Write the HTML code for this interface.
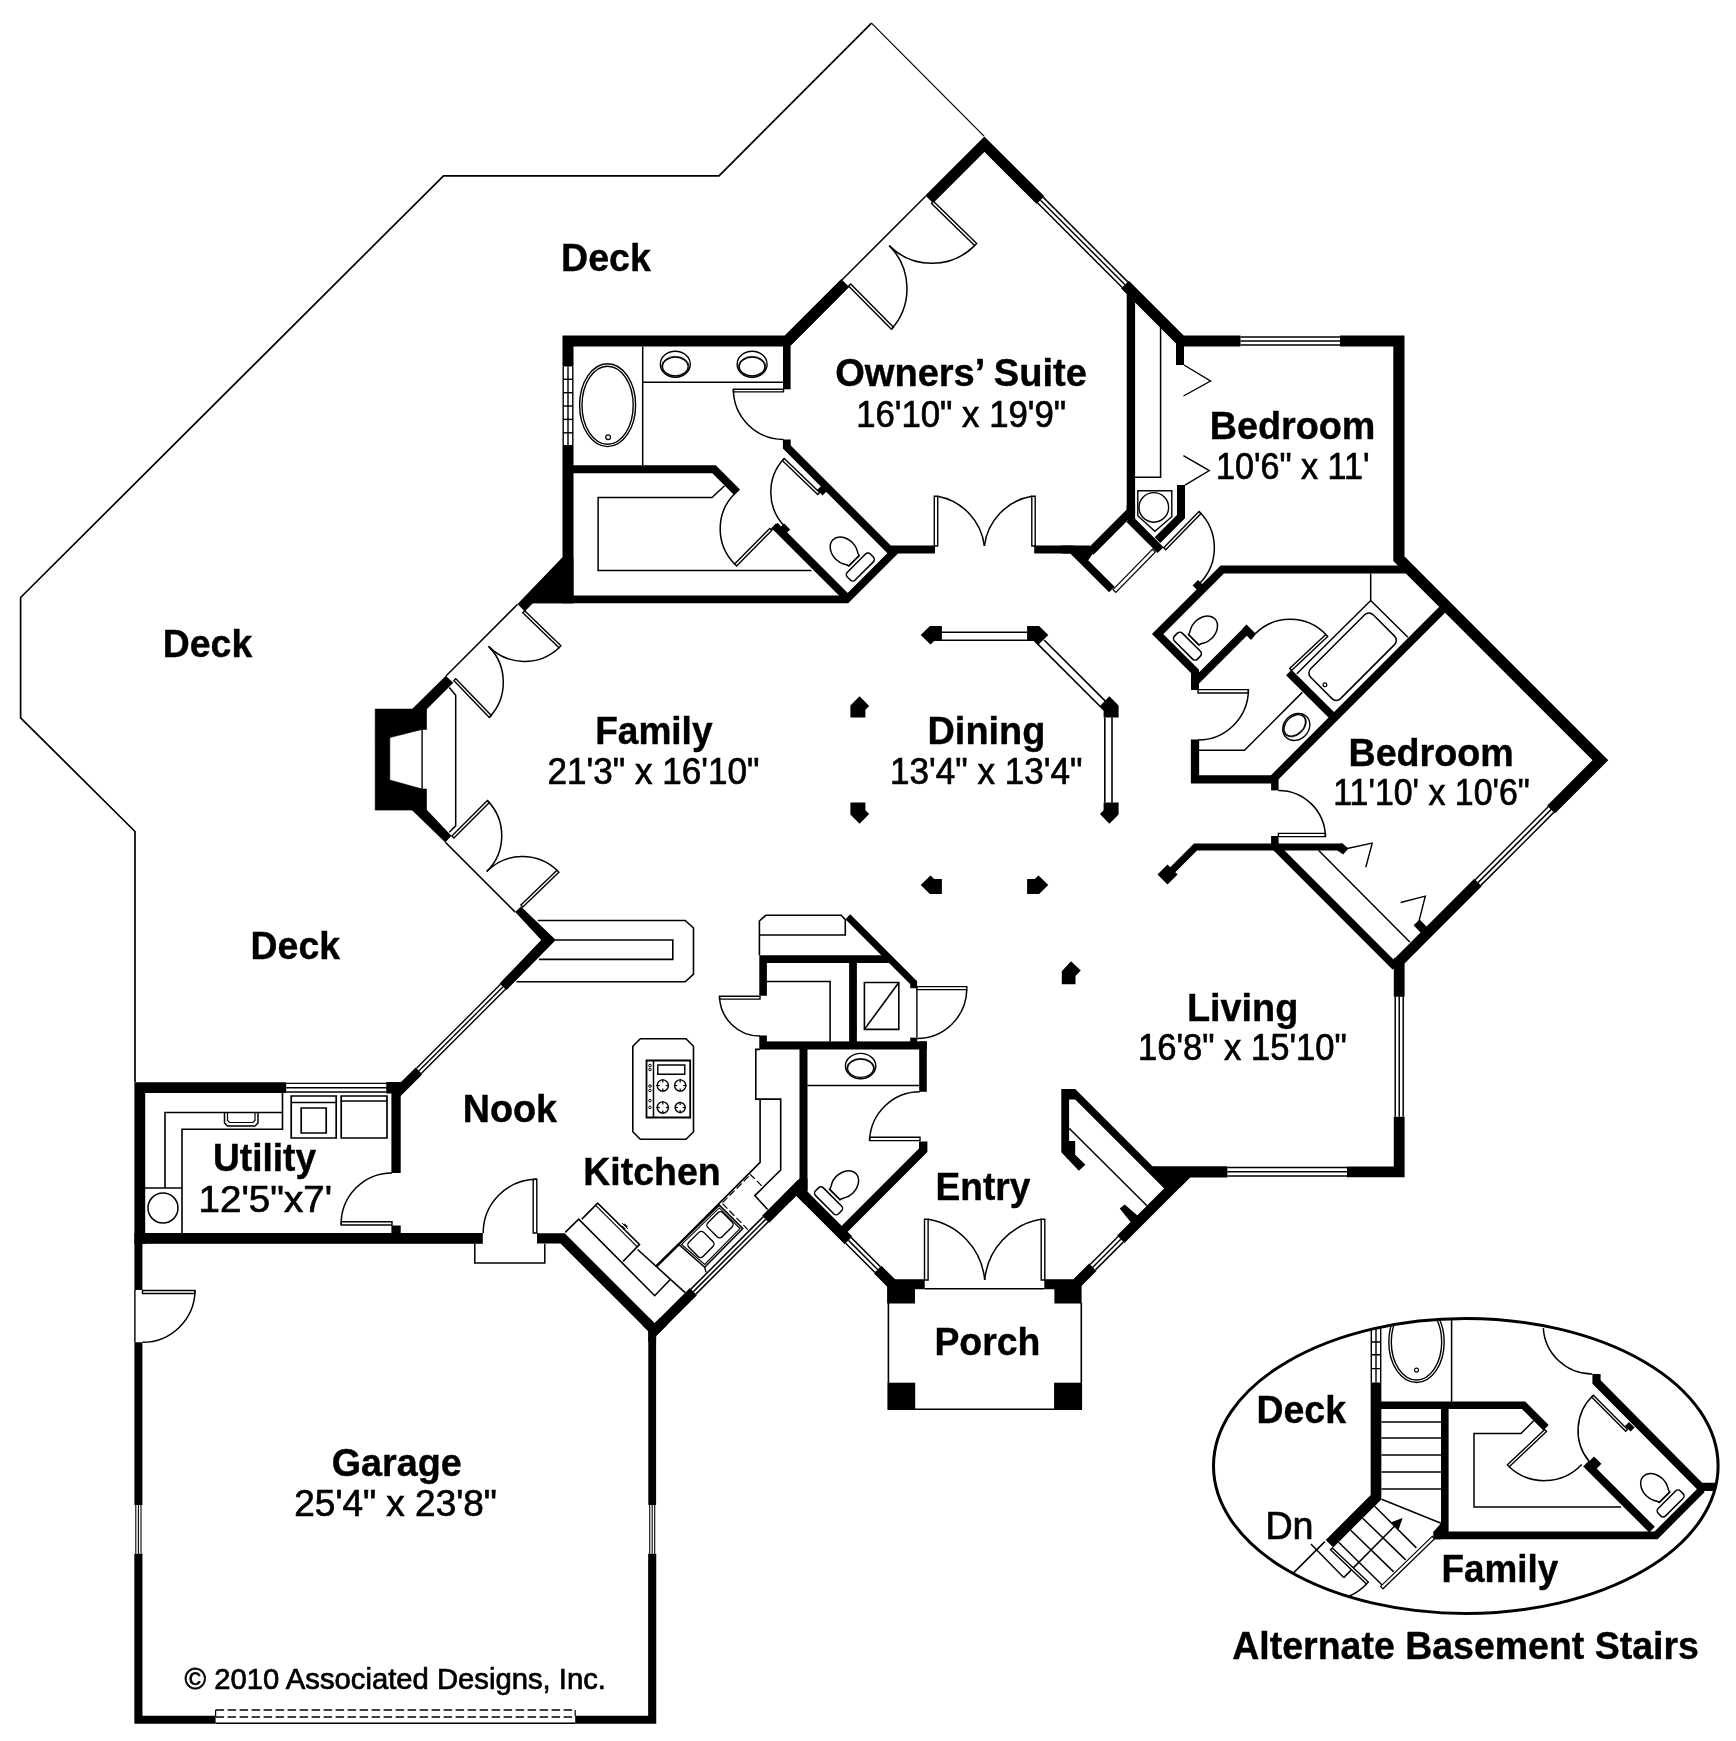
<!DOCTYPE html>
<html><head><meta charset="utf-8"><title>Floor Plan</title>
<style>
html,body{margin:0;padding:0;background:#fff;}
body{width:1736px;height:1741px;overflow:hidden;}
svg{display:block;transform:translateZ(0);will-change:transform;}
text{font-family:"Liberation Sans",sans-serif;fill:#000;}
</style></head><body>
<svg width="1736" height="1741" viewBox="0 0 1736 1741" shape-rendering="geometricPrecision">
<rect width="1736" height="1741" fill="#fff"/>
<polyline points="984,136.2 871.5,23.2" fill="none" stroke="#000" stroke-width="1.2"/>
<polyline points="871.5,23.2 719,175.8 443.5,175.8 20.6,597.5 20.6,717.8 135,831.5 135,1082" fill="none" stroke="#000" stroke-width="1.7"/>
<polyline points="568,366.4 568,341 787.3,341 845.1,283.2" fill="none" stroke="#000" stroke-width="11" stroke-linejoin="miter" stroke-linecap="butt" stroke-miterlimit="10"/>
<polyline points="568,445 568,603.2" fill="none" stroke="#000" stroke-width="11" stroke-linejoin="miter" stroke-linecap="butt" stroke-miterlimit="10"/>
<polyline points="563.2,366.4 563.2,445" fill="none" stroke="#000" stroke-width="1.4"/>
<polyline points="568,366.4 568,445" fill="none" stroke="#000" stroke-width="1.4"/>
<polyline points="572.8,366.4 572.8,445" fill="none" stroke="#000" stroke-width="1.4"/>
<polyline points="563.2,379.3 572.8,379.3" fill="none" stroke="#000" stroke-width="1.4"/>
<polyline points="563.2,392.7 572.8,392.7" fill="none" stroke="#000" stroke-width="1.4"/>
<polyline points="563.2,406 572.8,406" fill="none" stroke="#000" stroke-width="1.4"/>
<polyline points="563.2,419.4 572.8,419.4" fill="none" stroke="#000" stroke-width="1.4"/>
<polyline points="563.2,432.8 572.8,432.8" fill="none" stroke="#000" stroke-width="1.4"/>
<polyline points="786.8,341 786.8,389.3" fill="none" stroke="#000" stroke-width="7.6" stroke-linejoin="miter" stroke-linecap="butt" stroke-miterlimit="10"/>
<polyline points="786.8,439.4 786.8,447 889.3,549.5 935,549.5" fill="none" stroke="#000" stroke-width="7.8" stroke-linejoin="miter" stroke-linecap="butt" stroke-miterlimit="10"/>
<polyline points="896.5,549.5 846.6,599.4 530,599.4" fill="none" stroke="#000" stroke-width="7.8" stroke-linejoin="miter" stroke-linecap="butt" stroke-miterlimit="10"/>
<polygon points="562.5,557.2 517.5,604 524.8,611.6 532.8,603.3 573.4,603.3 573.4,557.2" fill="#000"/>
<polyline points="517.5,604.4 446,676" fill="none" stroke="#000" stroke-width="1.5"/>
<polygon points="445.8,675.8 453.3,682.7 426.5,709.6 411.6,709.6" fill="#000"/>
<path d="M375.2 709.1 H426.5 V729.4 H422.1 L389.8 737.6 V780.1 L422.1 789 H426.5 V810.1 H375.2 Z" fill="#000" stroke="#000" stroke-width="0.6"/>
<polyline points="422.1,729.4 422.1,789" fill="none" stroke="#000" stroke-width="1.4"/>
<polyline points="449.3,687.6 455.7,695.2 455.7,825.9 449.3,832.2" fill="none" stroke="#000" stroke-width="1.5"/>
<polygon points="411.3,809.6 426.5,809.6 451.4,835.8 445.3,842.6" fill="#000"/>
<polyline points="445.5,842.4 515.2,912.1" fill="none" stroke="#000" stroke-width="1.5"/>
<polygon points="515.2,912.1 541.2,940 499.6,983.4 506.4,990.2 555.8,940 520.9,906.4" fill="#000"/>
<polyline points="505.5,989.3 421.5,1073.3" fill="none" stroke="#000" stroke-width="1.4"/>
<polyline points="503,986.8 419,1070.8" fill="none" stroke="#000" stroke-width="1.4"/>
<polyline points="500.5,984.3 416.5,1068.3" fill="none" stroke="#000" stroke-width="1.4"/>
<polygon points="415.6,1067.4 422.4,1074.2 400.7,1095.9 400.7,1173 391.4,1173 391.4,1093.6 386.2,1093.6 386.2,1082 401,1082" fill="#000"/>
<rect x="391.4" y="1225.5" width="9.3" height="8" fill="#000"/>
<polyline points="139.8,1244 139.8,1087.6 286.2,1087.6" fill="none" stroke="#000" stroke-width="10.8" stroke-linejoin="miter" stroke-linecap="butt" stroke-miterlimit="10"/>
<polyline points="286.2,1083.4 386.2,1083.4" fill="none" stroke="#000" stroke-width="1.4"/>
<polyline points="286.2,1087.7 386.2,1087.7" fill="none" stroke="#000" stroke-width="1.4"/>
<polyline points="286.2,1092 386.2,1092" fill="none" stroke="#000" stroke-width="1.4"/>
<rect x="134.4" y="1233" width="348.4" height="10.8" fill="#000"/>
<polyline points="537,1238.4 562.6,1238.4 651.9,1327.7" fill="none" stroke="#000" stroke-width="10.2" stroke-linejoin="miter" stroke-linecap="butt" stroke-miterlimit="10"/>
<polyline points="138.4,1243 138.4,1290" fill="none" stroke="#000" stroke-width="8" stroke-linejoin="miter" stroke-linecap="butt" stroke-miterlimit="10"/>
<polyline points="138.4,1342.3 138.4,1505" fill="none" stroke="#000" stroke-width="8" stroke-linejoin="miter" stroke-linecap="butt" stroke-miterlimit="10"/>
<polyline points="138.4,1553.7 138.4,1719.7 215.6,1719.7" fill="none" stroke="#000" stroke-width="8.1" stroke-linejoin="miter" stroke-linecap="butt" stroke-miterlimit="10"/>
<polyline points="141,1505 141,1553.7" fill="none" stroke="#000" stroke-width="1.1"/>
<polyline points="138.4,1505 138.4,1553.7" fill="none" stroke="#000" stroke-width="1.1"/>
<polyline points="135.8,1505 135.8,1553.7" fill="none" stroke="#000" stroke-width="1.1"/>
<polyline points="575.2,1719.7 652.2,1719.7 652.2,1553.7" fill="none" stroke="#000" stroke-width="8.1" stroke-linejoin="miter" stroke-linecap="butt" stroke-miterlimit="10"/>
<polyline points="652.2,1505 652.2,1326" fill="none" stroke="#000" stroke-width="7.8" stroke-linejoin="miter" stroke-linecap="butt" stroke-miterlimit="10"/>
<polyline points="654.7,1505 654.7,1553.7" fill="none" stroke="#000" stroke-width="1.1"/>
<polyline points="652.2,1505 652.2,1553.7" fill="none" stroke="#000" stroke-width="1.1"/>
<polyline points="649.7,1505 649.7,1553.7" fill="none" stroke="#000" stroke-width="1.1"/>
<polygon points="649,1317.6 654.6,1323.2 660.3,1317.6 667.4,1324.7 656.1,1336 656.1,1342 648.3,1342 648.3,1331.3 641.8,1324.8" fill="#000"/>
<polyline points="215.6,1723.2 575.2,1723.2" fill="none" stroke="#000" stroke-width="1.5"/>
<polyline points="215.6,1710 575.2,1710" fill="none" stroke="#000" stroke-width="1.5" stroke-dasharray="8.5 3.5"/>
<polyline points="215.6,1716.9 575.2,1716.9" fill="none" stroke="#000" stroke-width="1.5" stroke-dasharray="8.5 3.5"/>
<polyline points="215.6,1710 215.6,1716" fill="none" stroke="#000" stroke-width="1.2"/>
<polyline points="575.2,1710 575.2,1716" fill="none" stroke="#000" stroke-width="1.2"/>
<polyline points="134.9,1290 134.9,1342.3" fill="none" stroke="#000" stroke-width="1.4"/>
<polygon points="142.5,1290.5 195,1290.5 195,1293.5 142.5,1293.5" fill="#fff" stroke="#000" stroke-width="1.4"/>
<path d="M195 1290.5 A52.5 52.5 0 0 1 142.5 1342.3" fill="none" stroke="#000" stroke-width="1.5"/>
<polygon points="536.8,1233 536.8,1179.3 533.2,1179.3 533.2,1233" fill="#fff" stroke="#000" stroke-width="1.4"/>
<path d="M536.8 1179.3 A53.7 53.7 0 0 0 483.2 1233" fill="none" stroke="#000" stroke-width="1.5"/>
<polyline points="474.8,1243.8 474.8,1263 544.8,1263 544.8,1243.8" fill="none" stroke="#000" stroke-width="1.5"/>
<polyline points="652.2,1332.8 693.4,1291.6" fill="none" stroke="#000" stroke-width="10" stroke-linejoin="miter" stroke-linecap="butt" stroke-miterlimit="10"/>
<polyline points="690.9,1289.1 763.1,1216.9" fill="none" stroke="#000" stroke-width="1.5"/>
<polyline points="693.4,1291.6 765.6,1219.4" fill="none" stroke="#000" stroke-width="1.5"/>
<polyline points="695.9,1294.1 768.1,1221.9" fill="none" stroke="#000" stroke-width="1.5"/>
<polyline points="765.6,1219.4 801.5,1183.5" fill="none" stroke="#000" stroke-width="10" stroke-linejoin="miter" stroke-linecap="butt" stroke-miterlimit="10"/>
<polyline points="803.5,1049 803.5,1190" fill="none" stroke="#000" stroke-width="8" stroke-linejoin="miter" stroke-linecap="butt" stroke-miterlimit="10"/>
<polygon points="799.5,1178.5 807.5,1178.5 807.5,1191.8 812,1196.4 804.5,1203.9 796.3,1195.7 790,1202 783,1195" fill="#000"/>
<polyline points="800.5,1192.4 848.5,1240.4" fill="none" stroke="#000" stroke-width="10.8" stroke-linejoin="miter" stroke-linecap="butt" stroke-miterlimit="10"/>
<polyline points="851.3,1237.6 880.4,1266.7" fill="none" stroke="#000" stroke-width="1.5"/>
<polyline points="848.5,1240.4 877.6,1269.5" fill="none" stroke="#000" stroke-width="1.5"/>
<polyline points="845.7,1243.2 874.8,1272.3" fill="none" stroke="#000" stroke-width="1.5"/>
<polyline points="877.6,1269.5 893,1284.9" fill="none" stroke="#000" stroke-width="10.8" stroke-linejoin="miter" stroke-linecap="butt" stroke-miterlimit="10"/>
<polygon points="887.1,1279.3 924.7,1279.3 924.7,1289.2 915,1289.2 915,1303.6 887.1,1303.6" fill="#000"/>
<polyline points="924.7,1288.8 1044.3,1288.8" fill="none" stroke="#000" stroke-width="1.5"/>
<polygon points="1044.3,1279.3 1081.6,1279.3 1081.6,1303.6 1054.4,1303.6 1054.4,1289.2 1044.3,1289.2" fill="#000"/>
<polygon points="924.5,1280 924.5,1219.3 928.1,1219.3 928.1,1280" fill="#fff" stroke="#000" stroke-width="1.4"/>
<polygon points="1044.8,1280 1044.8,1219.3 1041.2,1219.3 1041.2,1280" fill="#fff" stroke="#000" stroke-width="1.4"/>
<path d="M928.3 1219.3 A68 68 0 0 1 984.7 1280" fill="none" stroke="#000" stroke-width="1.5"/>
<path d="M1041 1219.3 A68 68 0 0 0 984.7 1280" fill="none" stroke="#000" stroke-width="1.5"/>
<polyline points="1077,1283 1092.8,1267.2" fill="none" stroke="#000" stroke-width="10.4" stroke-linejoin="miter" stroke-linecap="butt" stroke-miterlimit="10"/>
<polyline points="1090.1,1264.5 1118.1,1236.5" fill="none" stroke="#000" stroke-width="1.5"/>
<polyline points="1092.8,1267.2 1120.8,1239.2" fill="none" stroke="#000" stroke-width="1.5"/>
<polyline points="1095.5,1269.9 1123.5,1241.9" fill="none" stroke="#000" stroke-width="1.5"/>
<polyline points="1120.8,1239.2 1182,1178" fill="none" stroke="#000" stroke-width="10.4" stroke-linejoin="miter" stroke-linecap="butt" stroke-miterlimit="10"/>
<polygon points="1152,1166.2 1227.4,1166.2 1227.4,1177.4 1190.2,1177.4 1180,1187.6 1164.2,1188.5" fill="#000"/>
<polyline points="888.4,1303 888.4,1409.3 1081.3,1409.3 1081.3,1303" fill="none" stroke="#000" stroke-width="1.6"/>
<rect x="887.7" y="1382.7" width="27.5" height="27.2" fill="#000"/>
<rect x="1054.1" y="1382.7" width="27.8" height="27.2" fill="#000"/>
<polyline points="1227.4,1167.6 1347,1167.6" fill="none" stroke="#000" stroke-width="1.5"/>
<polyline points="1227.4,1171.8 1347,1171.8" fill="none" stroke="#000" stroke-width="1.5"/>
<polyline points="1227.4,1176 1347,1176" fill="none" stroke="#000" stroke-width="1.5"/>
<polyline points="1347,1171.8 1399.2,1171.8 1399.2,1116.8" fill="none" stroke="#000" stroke-width="10.8" stroke-linejoin="miter" stroke-linecap="butt" stroke-miterlimit="10"/>
<polyline points="1395.2,1116.8 1395.2,996.8" fill="none" stroke="#000" stroke-width="1.5"/>
<polyline points="1399.2,1116.8 1399.2,996.8" fill="none" stroke="#000" stroke-width="1.5"/>
<polyline points="1403.2,1116.8 1403.2,996.8" fill="none" stroke="#000" stroke-width="1.5"/>
<polyline points="1399.2,996.8 1399.2,958" fill="none" stroke="#000" stroke-width="10.8" stroke-linejoin="miter" stroke-linecap="butt" stroke-miterlimit="10"/>
<polyline points="1396.8,963.8 1478,882.6" fill="none" stroke="#000" stroke-width="10.6" stroke-linejoin="miter" stroke-linecap="butt" stroke-miterlimit="10"/>
<polyline points="1475.2,879.8 1548.2,806.8" fill="none" stroke="#000" stroke-width="1.5"/>
<polyline points="1478,882.6 1551,809.6" fill="none" stroke="#000" stroke-width="1.5"/>
<polyline points="1480.8,885.4 1553.8,812.4" fill="none" stroke="#000" stroke-width="1.5"/>
<polyline points="1340,341 1398.9,341 1398.9,558.7 1600.4,760.2 1551,809.6" fill="none" stroke="#000" stroke-width="11.2" stroke-linejoin="miter" stroke-linecap="butt" stroke-miterlimit="10"/>
<polyline points="1240.5,337.1 1340,337.1" fill="none" stroke="#000" stroke-width="1.5"/>
<polyline points="1240.5,341 1340,341" fill="none" stroke="#000" stroke-width="1.5"/>
<polyline points="1240.5,344.9 1340,344.9" fill="none" stroke="#000" stroke-width="1.5"/>
<polyline points="1125,284.7 1181.3,341 1240.5,341" fill="none" stroke="#000" stroke-width="11" stroke-linejoin="miter" stroke-linecap="butt" stroke-miterlimit="10"/>
<polyline points="1043.3,197.4 1127.8,281.9" fill="none" stroke="#000" stroke-width="1.5"/>
<polyline points="1040.5,200.2 1125,284.7" fill="none" stroke="#000" stroke-width="1.5"/>
<polyline points="1037.7,203 1122.2,287.5" fill="none" stroke="#000" stroke-width="1.5"/>
<polyline points="929.2,199.3 984.4,144.1 1040.5,200.2" fill="none" stroke="#000" stroke-width="10.9" stroke-linejoin="miter" stroke-linecap="butt" stroke-miterlimit="10"/>
<polyline points="925.6,196.3 841.9,280" fill="none" stroke="#000" stroke-width="1.5"/>
<polyline points="1180,341 1180,365" fill="none" stroke="#000" stroke-width="8" stroke-linejoin="miter" stroke-linecap="butt" stroke-miterlimit="10"/>
<text x="561.0" y="270.8" font-size="38.0" font-weight="bold" textLength="89.8" lengthAdjust="spacingAndGlyphs" stroke="#000" stroke-width="0.4">Deck</text>
<text x="162.8" y="657.4" font-size="38.0" font-weight="bold" textLength="89.4" lengthAdjust="spacingAndGlyphs" stroke="#000" stroke-width="0.4">Deck</text>
<text x="250.6" y="958.7" font-size="38.0" font-weight="bold" textLength="89.4" lengthAdjust="spacingAndGlyphs" stroke="#000" stroke-width="0.4">Deck</text>
<text x="835.2" y="386.3" font-size="38.0" font-weight="bold" textLength="251.7" lengthAdjust="spacingAndGlyphs" stroke="#000" stroke-width="0.4">Owners’ Suite</text>
<text x="856.2" y="426.7" font-size="36.8" textLength="209.9" lengthAdjust="spacingAndGlyphs" stroke="#000" stroke-width="0.7">16'10" x 19'9"</text>
<text x="1209.8" y="438.8" font-size="38.0" font-weight="bold" textLength="165.6" lengthAdjust="spacingAndGlyphs" stroke="#000" stroke-width="0.4">Bedroom</text>
<text x="1216.0" y="478.5" font-size="36.8" textLength="153.5" lengthAdjust="spacingAndGlyphs" stroke="#000" stroke-width="0.7">10'6" x 11'</text>
<text x="595.2" y="743.7" font-size="38.0" font-weight="bold" textLength="117.3" lengthAdjust="spacingAndGlyphs" stroke="#000" stroke-width="0.4">Family</text>
<text x="547.5" y="783.7" font-size="36.8" textLength="211.9" lengthAdjust="spacingAndGlyphs" stroke="#000" stroke-width="0.7">21'3" x 16'10"</text>
<text x="927.5" y="743.7" font-size="38.0" font-weight="bold" textLength="117.9" lengthAdjust="spacingAndGlyphs" stroke="#000" stroke-width="0.4">Dining</text>
<text x="890.1" y="783.6" font-size="36.8" textLength="192.3" lengthAdjust="spacingAndGlyphs" stroke="#000" stroke-width="0.7">13'4" x 13'4"</text>
<text x="1348.5" y="765.6" font-size="38.0" font-weight="bold" textLength="165.2" lengthAdjust="spacingAndGlyphs" stroke="#000" stroke-width="0.4">Bedroom</text>
<text x="1333.3" y="805.1" font-size="36.8" textLength="196.5" lengthAdjust="spacingAndGlyphs" stroke="#000" stroke-width="0.7">11'10' x 10'6"</text>
<text x="1186.9" y="1020.8" font-size="38.0" font-weight="bold" textLength="111.4" lengthAdjust="spacingAndGlyphs" stroke="#000" stroke-width="0.4">Living</text>
<text x="1138.0" y="1060.4" font-size="36.8" textLength="208.7" lengthAdjust="spacingAndGlyphs" stroke="#000" stroke-width="0.7">16'8" x 15'10"</text>
<text x="462.8" y="1121.8" font-size="38.0" font-weight="bold" textLength="94.2" lengthAdjust="spacingAndGlyphs" stroke="#000" stroke-width="0.4">Nook</text>
<text x="583.2" y="1184.7" font-size="38.0" font-weight="bold" textLength="137.5" lengthAdjust="spacingAndGlyphs" stroke="#000" stroke-width="0.4">Kitchen</text>
<text x="213.1" y="1171.3" font-size="38.0" font-weight="bold" textLength="103.0" lengthAdjust="spacingAndGlyphs" stroke="#000" stroke-width="0.4">Utility</text>
<text x="198.6" y="1211.6" font-size="36.8" textLength="133.4" lengthAdjust="spacingAndGlyphs" stroke="#000" stroke-width="0.7">12'5"x7'</text>
<text x="935.5" y="1199.9" font-size="38.0" font-weight="bold" textLength="94.9" lengthAdjust="spacingAndGlyphs" stroke="#000" stroke-width="0.4">Entry</text>
<text x="934.4" y="1355.0" font-size="38.0" font-weight="bold" textLength="105.9" lengthAdjust="spacingAndGlyphs" stroke="#000" stroke-width="0.4">Porch</text>
<text x="331.7" y="1476.2" font-size="38.0" font-weight="bold" textLength="130.0" lengthAdjust="spacingAndGlyphs" stroke="#000" stroke-width="0.4">Garage</text>
<text x="294.3" y="1516.1" font-size="36.8" textLength="202.6" lengthAdjust="spacingAndGlyphs" stroke="#000" stroke-width="0.7">25'4" x 23'8"</text>
<text x="184.6" y="1688.5" font-size="29.5" textLength="421.4" lengthAdjust="spacingAndGlyphs" stroke="#000" stroke-width="0.7">© 2010 Associated Designs, Inc.</text>
<text x="1256.5" y="1423.0" font-size="38.0" font-weight="bold" textLength="89.5" lengthAdjust="spacingAndGlyphs" stroke="#000" stroke-width="0.4">Deck</text>
<text x="1265.4" y="1538.8" font-size="38.0" textLength="48.2" lengthAdjust="spacingAndGlyphs" stroke="#000" stroke-width="0.7">Dn</text>
<text x="1441.6" y="1581.9" font-size="38.0" font-weight="bold" textLength="116.7" lengthAdjust="spacingAndGlyphs" stroke="#000" stroke-width="0.4">Family</text>
<text x="1232.3" y="1659.4" font-size="38.0" font-weight="bold" textLength="466.6" lengthAdjust="spacingAndGlyphs" stroke="#000" stroke-width="0.4">Alternate Basement Stairs</text>
<polyline points="642.7,346.7 642.7,465.3" fill="none" stroke="#000" stroke-width="1.5"/>
<polyline points="642.7,382.3 783,382.3" fill="none" stroke="#000" stroke-width="1.5"/>
<g transform="translate(675.3 364.3) rotate(0)" fill="none" stroke="#000" stroke-width="1.35"><ellipse cx="0" cy="0" rx="15" ry="13"/><ellipse cx="0" cy="2.2" rx="12.8" ry="9.4"/><ellipse cx="0" cy="2.4" rx="13.8" ry="10.4" stroke-width="0.8"/></g>
<g transform="translate(752.1 364.3) rotate(0)" fill="none" stroke="#000" stroke-width="1.35"><ellipse cx="0" cy="0" rx="15" ry="13"/><ellipse cx="0" cy="2.2" rx="12.8" ry="9.4"/><ellipse cx="0" cy="2.4" rx="13.8" ry="10.4" stroke-width="0.8"/></g>
<ellipse cx="607.6" cy="405.2" rx="28" ry="41.4" fill="none" stroke="#000" stroke-width="1.4"/>
<ellipse cx="607.6" cy="405.2" rx="25.6" ry="39" fill="none" stroke="#000" stroke-width="1.4"/>
<circle cx="608.1" cy="437.3" r="2.4" fill="none" stroke="#000" stroke-width="1.2"/>
<polygon points="783.5,389.3 733.4,389.3 733.4,391.9 783.5,391.9" fill="#fff" stroke="#000" stroke-width="1.4"/>
<path d="M733.4 389.3 A50.1 50.1 0 0 0 783.5 439.4" fill="none" stroke="#000" stroke-width="1.5"/>
<polyline points="573,469.3 714.1,469.3 737.2,492.3" fill="none" stroke="#000" stroke-width="8" stroke-linejoin="miter" stroke-linecap="butt" stroke-miterlimit="10"/>
<polyline points="724.6,485.7 712,497.6 598.1,497.6 598.1,570.6 811.5,570.6" fill="none" stroke="#000" stroke-width="1.5"/>
<polyline points="774.7,525.6 845.5,596.4" fill="none" stroke="#000" stroke-width="8" stroke-linejoin="miter" stroke-linecap="butt" stroke-miterlimit="10"/>
<polygon points="770.3,529.3 775.8,523.4 780.3,527.6 784.2,523.6 790.2,529.4 786.2,533.6" fill="#000"/>
<polygon points="769.7,528.4 734.6,563.9 736.6,565.9 771.7,530.4" fill="#fff" stroke="#000" stroke-width="1.4"/>
<path d="M734.6 563.9 A49.9 49.9 0 0 1 734.6 493.7" fill="none" stroke="#000" stroke-width="1.5"/>
<polygon points="817.2,489.8 822.6,495.4 826.4,491.6 821,486.2" fill="#000"/>
<polygon points="819.6,492.4 784.2,458.6 782.3,460.6 817.7,494.4" fill="#fff" stroke="#000" stroke-width="1.4"/>
<path d="M784.2 458.6 A48.9 48.9 0 0 0 784.9 526.6" fill="none" stroke="#000" stroke-width="1.5"/>
<g transform="translate(856.4 563.2) rotate(-45)" fill="#fff" stroke="#000" stroke-width="1.5"><path d="M-7.4 -3.4 C-7.4 -5.4 -8.6 -6.8 -9.6 -8.6 C-11.2 -11.4 -11.8 -13.9 -11.8 -16.9 C-11.8 -25.4 -7 -33.2 0 -33.2 C7 -33.2 11.8 -25.4 11.8 -16.9 C11.8 -13.9 11.2 -11.4 9.6 -8.6 C8.6 -6.8 7.4 -5.4 7.4 -3.4 Z"/><rect x="-16.2" y="0" width="32.5" height="11" rx="3.4" ry="3.4"/><path d="M-7.8 -3.4 H7.8" stroke-width="1.5"/></g>
<polygon points="931.5,203.5 974.6,245.6 976.7,243.5 933.6,201.4" fill="#fff" stroke="#000" stroke-width="1.4"/>
<path d="M974.6 245.6 A60.2 60.2 0 0 1 889.2 245.6" fill="none" stroke="#000" stroke-width="1.5"/>
<polygon points="848.6,286 891.4,329.3 893.5,327.2 850.7,283.9" fill="#fff" stroke="#000" stroke-width="1.4"/>
<path d="M891.4 329.3 A60.9 60.9 0 0 0 889.2 245.6" fill="none" stroke="#000" stroke-width="1.5"/>
<polyline points="845.1,283.2 787.3,341" fill="none" stroke="#000" stroke-width="11" stroke-linejoin="miter" stroke-linecap="butt" stroke-miterlimit="10"/>
<polygon points="934.3,546 934.3,496.2 937.7,496.2 937.7,546" fill="#fff" stroke="#000" stroke-width="1.4"/>
<polygon points="1035.2,546 1035.2,496.2 1031.8,496.2 1031.8,546" fill="#fff" stroke="#000" stroke-width="1.4"/>
<path d="M937.7 496.2 A58 58 0 0 1 984.4 546" fill="none" stroke="#000" stroke-width="1.5"/>
<path d="M1031.8 496.2 A58 58 0 0 0 984.4 546" fill="none" stroke="#000" stroke-width="1.5"/>
<polyline points="1034.2,549.5 1071.8,549.5 1111.9,589.6" fill="none" stroke="#000" stroke-width="7.8" stroke-linejoin="miter" stroke-linecap="butt" stroke-miterlimit="10"/>
<polyline points="1130.9,290 1130.9,511.3 1090.5,551.7" fill="none" stroke="#000" stroke-width="8.4" stroke-linejoin="miter" stroke-linecap="butt" stroke-miterlimit="10"/>
<polygon points="1062,545.6 1089.6,545.6 1094,552 1088,560.6 1080,561 1070.4,553.4 1062,553.4" fill="#000"/>
<polygon points="1126.7,505 1135.1,505 1135.1,519 1130.9,525 1126.7,519" fill="#000"/>
<polyline points="1129.5,519 1160.6,550.1" fill="none" stroke="#000" stroke-width="8.4" stroke-linejoin="miter" stroke-linecap="butt" stroke-miterlimit="10"/>
<polyline points="1181,485.1 1181,516.6 1157.5,540.1" fill="none" stroke="#000" stroke-width="8" stroke-linejoin="miter" stroke-linecap="butt" stroke-miterlimit="10"/>
<polygon points="1113,589.6 1152.6,549.2 1155.4,551.9 1115.8,592.3" fill="#fff" stroke="#000" stroke-width="1.2"/>
<polyline points="1135,477.3 1160.6,477.3 1160.6,327" fill="none" stroke="#000" stroke-width="1.5"/>
<polygon points="1137.8,490.8 1171.8,490.8 1171.8,516.7 1154.9,531.2 1137.8,515.7" fill="none" stroke="#000" stroke-width="1.4"/>
<circle cx="1153.8" cy="507.4" r="14.8" fill="none" stroke="#000" stroke-width="1.4"/>
<polyline points="1184,365 1210.5,381 1183.5,396" fill="none" stroke="#000" stroke-width="1.4"/>
<polyline points="1183.4,455.6 1209.3,470.6 1185,485.1" fill="none" stroke="#000" stroke-width="1.4"/>
<polygon points="1163.7,547.8 1199,511.5 1201,513.5 1165.7,549.8" fill="#fff" stroke="#000" stroke-width="1.4"/>
<path d="M1199 511.5 A50.6 50.6 0 0 1 1200 583.1" fill="none" stroke="#000" stroke-width="1.5"/>
<polyline points="1408,569.4 1222.3,569.4 1157.6,634.1 1195,671.5 1195,690" fill="none" stroke="#000" stroke-width="8" stroke-linejoin="miter" stroke-linecap="butt" stroke-miterlimit="10"/>
<polygon points="1192.6,585.4 1198.2,591 1203.6,585.6 1198,580" fill="#000"/>
<polyline points="1195,739.5 1195,779.3 1272.7,779.3 1442.2,609.8" fill="none" stroke="#000" stroke-width="8.3" stroke-linejoin="miter" stroke-linecap="butt" stroke-miterlimit="10"/>
<rect x="1271.1" y="775" width="7.5" height="15.4" fill="#000"/>
<polyline points="1196,681 1248.5,628.5" fill="none" stroke="#000" stroke-width="8" stroke-linejoin="miter" stroke-linecap="butt" stroke-miterlimit="10"/>
<polygon points="1242.6,628.6 1246.5,624.6 1256,634 1251,640 1246,635" fill="#000"/>
<g transform="translate(1191.3 642.2) rotate(45)" fill="#fff" stroke="#000" stroke-width="1.5"><path d="M-7.4 -3.4 C-7.4 -5.4 -8.6 -6.8 -9.6 -8.6 C-11.2 -11.4 -11.8 -13.9 -11.8 -16.9 C-11.8 -25.4 -7 -33.2 0 -33.2 C7 -33.2 11.8 -25.4 11.8 -16.9 C11.8 -13.9 11.2 -11.4 9.6 -8.6 C8.6 -6.8 7.4 -5.4 7.4 -3.4 Z"/><rect x="-16.2" y="0" width="32.5" height="11" rx="3.4" ry="3.4"/><path d="M-7.8 -3.4 H7.8" stroke-width="1.5"/></g>
<polygon points="1198,689.6 1248.4,689.6 1248.4,693 1198,693" fill="#fff" stroke="#000" stroke-width="1.4"/>
<path d="M1248.4 689.6 A50.4 50.4 0 0 1 1198 740" fill="none" stroke="#000" stroke-width="1.5"/>
<polyline points="1199,750.2 1244.5,750.2 1302.3,692.4" fill="none" stroke="#000" stroke-width="1.5"/>
<g transform="translate(1296.3 726.9) rotate(135)" fill="none" stroke="#000" stroke-width="1.35"><ellipse cx="0" cy="0" rx="14.6" ry="12.4"/><ellipse cx="0" cy="2.2" rx="12.4" ry="8.8"/><ellipse cx="0" cy="2.4" rx="13.4" ry="9.8" stroke-width="0.8"/></g>
<polyline points="1288.8,672.4 1331.5,715.1" fill="none" stroke="#000" stroke-width="7.8" stroke-linejoin="miter" stroke-linecap="butt" stroke-miterlimit="10"/>
<polygon points="1289.6,668.4 1325.8,634.4 1327.7,636.4 1291.5,670.4" fill="#fff" stroke="#000" stroke-width="1.4"/>
<path d="M1325.8 634.4 A49.7 49.7 0 0 0 1255.3 633.6" fill="none" stroke="#000" stroke-width="1.5"/>
<polyline points="1370.7,573.4 1370.7,600.5" fill="none" stroke="#000" stroke-width="1.5"/>
<polyline points="1296.8,673.8 1370.7,600.5 1407.9,637.2" fill="none" stroke="#000" stroke-width="1.5"/>
<rect x="-44.2" y="-21.1" width="88.4" height="42.2" rx="6" ry="6" fill="none" stroke="#000" stroke-width="1.5" transform="translate(1352.6 656.7) rotate(-45)"/>
<circle cx="1324.9" cy="684.8" r="1.9" fill="none" stroke="#000" stroke-width="1.2"/>
<rect x="1271.1" y="836" width="7.5" height="8" fill="#000"/>
<polygon points="1278.4,836.6 1325.4,836.6 1325.4,833.4 1278.4,833.4" fill="#fff" stroke="#000" stroke-width="1.4"/>
<path d="M1325.4 836.6 A47 47 0 0 0 1278.4 790.4" fill="none" stroke="#000" stroke-width="1.5"/>
<polyline points="1168,874.5 1195.5,847 1342.5,847" fill="none" stroke="#000" stroke-width="7.2" stroke-linejoin="miter" stroke-linecap="butt" stroke-miterlimit="10"/>
<polygon points="1340,843.4 1342.6,843.4 1348.4,848.5 1343.2,854.4 1337.4,850.6" fill="#000"/>
<polygon points="1157.5,874.4 1167.5,864.4 1177.6,874.4 1167.5,884.4" fill="#000"/>
<polyline points="1275.6,847 1395.5,966.9" fill="none" stroke="#000" stroke-width="7.8" stroke-linejoin="miter" stroke-linecap="butt" stroke-miterlimit="10"/>
<polyline points="1318.7,850.5 1409.8,942" fill="none" stroke="#000" stroke-width="1.5"/>
<polyline points="1347.1,848.5 1372.2,843.1 1365.8,867.2" fill="none" stroke="#000" stroke-width="1.4"/>
<polyline points="1400.6,902.5 1425.3,896.1 1419,921.2" fill="none" stroke="#000" stroke-width="1.4"/>
<polygon points="1413.6,925.2 1419.6,919.4 1427,927 1421,933" fill="#000"/>
<polygon points="941.9,625.9 941.9,640.9 934.2,640.9 930.5,644.6 920.7,635.1 929.9,625.9" fill="#000"/>
<polygon points="850.4,717.4 865.4,717.4 865.4,709.7 869.1,706 859.6,696.2 850.4,705.4" fill="#000"/>
<polygon points="941.9,894.1 941.9,879.1 934.2,879.1 930.5,875.4 920.7,884.9 929.9,894.1" fill="#000"/>
<polygon points="850.4,802.6 865.4,802.6 865.4,810.3 869.1,814 859.6,823.8 850.4,814.6" fill="#000"/>
<polygon points="1027.1,625.9 1027.1,640.9 1034.8,640.9 1038.5,644.6 1048.3,635.1 1039.1,625.9" fill="#000"/>
<polygon points="1118.6,717.4 1103.6,717.4 1103.6,709.7 1099.9,706 1109.4,696.2 1118.6,705.4" fill="#000"/>
<polygon points="1027.1,894.1 1027.1,879.1 1034.8,879.1 1038.5,875.4 1048.3,884.9 1039.1,894.1" fill="#000"/>
<polygon points="1118.6,802.6 1103.6,802.6 1103.6,810.3 1099.9,814 1109.4,823.8 1118.6,814.6" fill="#000"/>
<polyline points="941.9,632.2 1027.1,632.2" fill="none" stroke="#000" stroke-width="1.6"/>
<polyline points="941.9,640.2 1027.1,640.2" fill="none" stroke="#000" stroke-width="1.6"/>
<polyline points="1034.6,640.9 1104,710.2" fill="none" stroke="#000" stroke-width="1.6"/>
<polyline points="1044.1,640 1105.6,701.4" fill="none" stroke="#000" stroke-width="1.6"/>
<polyline points="1104.8,717.4 1104.8,802.6" fill="none" stroke="#000" stroke-width="1.6"/>
<polyline points="1112,717.4 1112,802.6" fill="none" stroke="#000" stroke-width="1.6"/>
<polygon points="1061.8,984.2 1075.5,984.2 1075.5,976 1080.8,970.5 1071,961.2 1061.8,971.2" fill="#000"/>
<polygon points="1061.3,1089 1075.2,1089 1153,1166.8 1166,1190.3 1075.2,1099.4 1069.1,1099.4 1069.1,1141 1075.2,1141 1075.2,1154.7 1085.4,1164.8 1078.8,1170.8 1061.3,1152.2" fill="#000"/>
<polyline points="1069.1,1128.2 1147,1205.7" fill="none" stroke="#000" stroke-width="1.5"/>
<polygon points="1119.7,1208.6 1124.7,1204.6 1138,1216 1131,1222.6" fill="#000"/>
<polygon points="522.8,612.8 559,647.7 560.9,645.7 524.7,610.8" fill="#fff" stroke="#000" stroke-width="1.4"/>
<path d="M559 647.7 A50.3 50.3 0 0 1 488.6 646.4" fill="none" stroke="#000" stroke-width="1.5"/>
<polygon points="453.8,680.6 489.3,717.4 491.3,715.5 455.8,678.7" fill="#fff" stroke="#000" stroke-width="1.4"/>
<path d="M489.3 717.4 A51.1 51.1 0 0 0 488.6 646.4" fill="none" stroke="#000" stroke-width="1.5"/>
<polygon points="451.9,836 487.4,800.6 489.4,802.6 453.9,838" fill="#fff" stroke="#000" stroke-width="1.4"/>
<path d="M487.4 800.6 A50.1 50.1 0 0 1 486.7 871.5" fill="none" stroke="#000" stroke-width="1.5"/>
<polygon points="520.9,905.1 557,870.3 558.9,872.3 522.8,907.1" fill="#fff" stroke="#000" stroke-width="1.4"/>
<path d="M557 870.3 A50.1 50.1 0 0 0 486.7 871.5" fill="none" stroke="#000" stroke-width="1.5"/>
<polyline points="537.8,920.5 685.2,920.5 693.5,928 693.5,974.2 685.2,981.8 516.5,981.8" fill="none" stroke="#000" stroke-width="1.6"/>
<polyline points="555.2,940 672.8,940 672.8,959.4 539,959.4" fill="none" stroke="#000" stroke-width="1.6"/>
<polyline points="759.4,955.3 759.4,921 765.8,915.3 841.2,915.3 845.3,919.8 845.3,935 759.4,935" fill="none" stroke="#000" stroke-width="1.6"/>
<polyline points="763.1,995.8 763.1,959.1 889,959.1" fill="none" stroke="#000" stroke-width="7.6" stroke-linejoin="miter" stroke-linecap="butt" stroke-miterlimit="10"/>
<polyline points="847.8,916.8 913.7,982.7 913.7,988.2" fill="none" stroke="#000" stroke-width="6.9" stroke-linejoin="miter" stroke-linecap="butt" stroke-miterlimit="10"/>
<rect x="759.3" y="1035.5" width="7.6" height="6.5" fill="#000"/>
<rect x="759.3" y="1041.4" width="167.5" height="8.1" fill="#000"/>
<polyline points="853,959 853,1045" fill="none" stroke="#000" stroke-width="7.8" stroke-linejoin="miter" stroke-linecap="butt" stroke-miterlimit="10"/>
<polyline points="766.8,981.5 830.1,981.5 830.1,1041.4" fill="none" stroke="#000" stroke-width="1.6"/>
<polygon points="760,996.3 719.5,996.3 719.5,999.1 760,999.1" fill="#fff" stroke="#000" stroke-width="1.4"/>
<path d="M719.5 996.3 A40.5 40.5 0 0 0 760 1036" fill="none" stroke="#000" stroke-width="1.5"/>
<polygon points="864.4,982.5 898.8,982.5 898.8,1029.4 864.4,1029.4" fill="none" stroke="#000" stroke-width="1.6"/>
<polyline points="864.4,1029.4 898.8,982.5" fill="none" stroke="#000" stroke-width="1.6"/>
<polyline points="916.9,988 916.9,1037.6" fill="none" stroke="#000" stroke-width="1.4"/>
<rect x="910.2" y="1037.6" width="7" height="4.4" fill="#000"/>
<polygon points="917,989.6 966.8,989.6 966.8,986.6 917,986.6" fill="#fff" stroke="#000" stroke-width="1.4"/>
<path d="M966.8 989.6 A49.8 49.8 0 0 1 917 1038.4" fill="none" stroke="#000" stroke-width="1.5"/>
<polyline points="923,1041.4 923,1091.8" fill="none" stroke="#000" stroke-width="7.6" stroke-linejoin="miter" stroke-linecap="butt" stroke-miterlimit="10"/>
<polyline points="807.4,1085.5 919.2,1085.5" fill="none" stroke="#000" stroke-width="1.5"/>
<g transform="translate(860.6 1066.1) rotate(0)" fill="none" stroke="#000" stroke-width="1.35"><ellipse cx="0" cy="0" rx="15.2" ry="12.7"/><ellipse cx="0" cy="2.2" rx="13" ry="9.1"/><ellipse cx="0" cy="2.4" rx="14" ry="10.1" stroke-width="0.8"/></g>
<polygon points="920,1140.6 869.6,1140.6 869.6,1137.2 920,1137.2" fill="#fff" stroke="#000" stroke-width="1.4"/>
<path d="M869.6 1140.6 A50.4 50.4 0 0 1 920 1091.8" fill="none" stroke="#000" stroke-width="1.5"/>
<polyline points="923.2,1141.4 923.2,1150.3 842,1231.5" fill="none" stroke="#000" stroke-width="8.4" stroke-linejoin="miter" stroke-linecap="butt" stroke-miterlimit="10"/>
<g transform="translate(832.4 1196.9) rotate(45)" fill="#fff" stroke="#000" stroke-width="1.5"><path d="M-7.4 -3.4 C-7.4 -5.4 -8.6 -6.8 -9.6 -8.6 C-11.2 -11.4 -11.8 -13.9 -11.8 -16.9 C-11.8 -25.4 -7 -33.2 0 -33.2 C7 -33.2 11.8 -25.4 11.8 -16.9 C11.8 -13.9 11.2 -11.4 9.6 -8.6 C8.6 -6.8 7.4 -5.4 7.4 -3.4 Z"/><rect x="-16.2" y="0" width="32.5" height="11" rx="3.4" ry="3.4"/><path d="M-7.8 -3.4 H7.8" stroke-width="1.5"/></g>
<polyline points="760,1049.4 755.8,1049.4 755.8,1099.1 780.7,1099.1 780.7,1170 754.8,1195.6 767.6,1209.5" fill="none" stroke="#000" stroke-width="1.6"/>
<polyline points="760.1,1099.1 760.1,1162.4 656,1266.6" fill="none" stroke="#000" stroke-width="1.6"/>
<polygon points="640.3,1038.8 686,1038.8 693.5,1046.3 693.5,1131.7 686,1139.2 640.3,1139.2 632.8,1131.7 632.8,1046.3" fill="none" stroke="#000" stroke-width="1.6"/>
<polygon points="646.5,1060.5 690.2,1060.5 690.2,1117.5 646.5,1117.5" fill="none" stroke="#000" stroke-width="1.8"/>
<polyline points="653.5,1060.5 653.5,1117.5" fill="none" stroke="#000" stroke-width="1.5"/>
<polygon points="657.8,1065 684.8,1065 684.8,1074.2 657.8,1074.2" fill="none" stroke="#000" stroke-width="1.4"/>
<circle cx="662.8" cy="1085.5" r="5.6" fill="none" stroke="#000" stroke-width="1.4"/>
<polyline points="665.8,1085.5 669.1,1085.5" fill="none" stroke="#000" stroke-width="1.2"/>
<polyline points="662.8,1088.5 662.8,1091.9" fill="none" stroke="#000" stroke-width="1.2"/>
<polyline points="659.8,1085.5 656.4,1085.5" fill="none" stroke="#000" stroke-width="1.2"/>
<polyline points="662.8,1082.5 662.8,1079.1" fill="none" stroke="#000" stroke-width="1.2"/>
<circle cx="680.2" cy="1085.5" r="5.6" fill="none" stroke="#000" stroke-width="1.4"/>
<polyline points="683.2,1085.5 686.6,1085.5" fill="none" stroke="#000" stroke-width="1.2"/>
<polyline points="680.2,1088.5 680.2,1091.9" fill="none" stroke="#000" stroke-width="1.2"/>
<polyline points="677.2,1085.5 673.9,1085.5" fill="none" stroke="#000" stroke-width="1.2"/>
<polyline points="680.2,1082.5 680.2,1079.1" fill="none" stroke="#000" stroke-width="1.2"/>
<circle cx="662.8" cy="1107.5" r="5.6" fill="none" stroke="#000" stroke-width="1.4"/>
<polyline points="665.8,1107.5 669.1,1107.5" fill="none" stroke="#000" stroke-width="1.2"/>
<polyline points="662.8,1110.5 662.8,1113.9" fill="none" stroke="#000" stroke-width="1.2"/>
<polyline points="659.8,1107.5 656.4,1107.5" fill="none" stroke="#000" stroke-width="1.2"/>
<polyline points="662.8,1104.5 662.8,1101.1" fill="none" stroke="#000" stroke-width="1.2"/>
<circle cx="680.2" cy="1107.5" r="5" fill="none" stroke="#000" stroke-width="1.4"/>
<polyline points="682.6,1107.5 686,1107.5" fill="none" stroke="#000" stroke-width="1.2"/>
<polyline points="680.2,1109.9 680.2,1113.3" fill="none" stroke="#000" stroke-width="1.2"/>
<polyline points="677.9,1107.5 674.5,1107.5" fill="none" stroke="#000" stroke-width="1.2"/>
<polyline points="680.2,1105.1 680.2,1101.7" fill="none" stroke="#000" stroke-width="1.2"/>
<circle cx="650" cy="1065.5" r="1.3" fill="none" stroke="#000" stroke-width="1"/>
<circle cx="650" cy="1069.5" r="1.3" fill="none" stroke="#000" stroke-width="1"/>
<circle cx="650" cy="1086" r="1.3" fill="none" stroke="#000" stroke-width="1"/>
<circle cx="650" cy="1090.5" r="1.3" fill="none" stroke="#000" stroke-width="1"/>
<circle cx="650" cy="1100.5" r="1.3" fill="none" stroke="#000" stroke-width="1"/>
<circle cx="650" cy="1107.5" r="1.3" fill="none" stroke="#000" stroke-width="1"/>
<polyline points="565.3,1232.4 578.7,1219.1 654.7,1295.7 670.5,1279.3" fill="none" stroke="#000" stroke-width="1.6"/>
<polyline points="581.8,1219.1 597.7,1203.2 639.5,1244.4 623,1261.5" fill="none" stroke="#000" stroke-width="1.6"/>
<polyline points="596.2,1205.8 637,1246.6" fill="none" stroke="#000" stroke-width="1.2"/>
<polyline points="624.2,1223.8 627.4,1227" fill="none" stroke="#000" stroke-width="1.2"/>
<polyline points="622,1226 625.2,1229.2" fill="none" stroke="#000" stroke-width="1.2"/>
<polyline points="622,1223 628,1229" fill="none" stroke="#000" stroke-width="1"/>
<polyline points="637.6,1249.5 685.1,1292.6" fill="none" stroke="#000" stroke-width="1.6"/>
<polyline points="656,1266.6 678.8,1244.4" fill="none" stroke="#000" stroke-width="2.7"/>
<polygon points="678.8,1244.4 719.3,1205.1 742.8,1228.6 704.7,1267.2" fill="none" stroke="#000" stroke-width="1.5"/>
<polygon points="681.6,1244.4 719.3,1207.9 740,1228.6 704.7,1264.4" fill="none" stroke="#000" stroke-width="1.1"/>
<polyline points="704.7,1267.2 706,1272.3" fill="none" stroke="#000" stroke-width="1.4"/>
<rect x="-10" y="-10.5" width="20" height="21" rx="3.5" ry="3.5" fill="none" stroke="#000" stroke-width="1.4" transform="translate(700.9 1244.4) rotate(45)"/>
<rect x="-10" y="-10.5" width="20" height="21" rx="3.5" ry="3.5" fill="none" stroke="#000" stroke-width="1.4" transform="translate(720 1224.8) rotate(45)"/>
<polyline points="722.5,1202.6 750.4,1174.7" fill="none" stroke="#000" stroke-width="1.2" stroke-dasharray="7 3"/>
<polyline points="722.5,1203.6 747.8,1229.6" fill="none" stroke="#000" stroke-width="1.2" stroke-dasharray="7 3"/>
<polyline points="749.7,1173.8 763,1187.1" fill="none" stroke="#000" stroke-width="1.2" stroke-dasharray="7 3"/>
<polyline points="282.5,1093 282.5,1129.2 182,1129.2 182,1233" fill="none" stroke="#000" stroke-width="1.6"/>
<polyline points="282.5,1112.5 165,1112.5 165,1188" fill="none" stroke="#000" stroke-width="1.6"/>
<polyline points="145,1188 182,1188" fill="none" stroke="#000" stroke-width="1.6"/>
<circle cx="163" cy="1208" r="15" fill="none" stroke="#000" stroke-width="1.5"/>
<polyline points="224.5,1112.5 224.5,1123 227.5,1126 255,1126 258,1123 258,1112.5" fill="none" stroke="#000" stroke-width="1.5"/>
<polyline points="227.5,1112.5 227.5,1120.5 229.5,1122.5 253,1122.5 255,1120.5 255,1112.5" fill="none" stroke="#000" stroke-width="1.2"/>
<polygon points="291.2,1096 336.2,1096 336.2,1138 291.2,1138" fill="none" stroke="#000" stroke-width="1.7"/>
<polyline points="291.2,1102.5 336.2,1102.5" fill="none" stroke="#000" stroke-width="1.5"/>
<polygon points="301.2,1108 326.2,1108 326.2,1133 301.2,1133" fill="none" stroke="#000" stroke-width="1.7"/>
<polygon points="341.2,1096 387,1096 387,1138 341.2,1138" fill="none" stroke="#000" stroke-width="1.7"/>
<polyline points="341.2,1101 387,1101" fill="none" stroke="#000" stroke-width="1.5"/>
<polygon points="392,1225 341.2,1225 341.2,1221.8 392,1221.8" fill="#fff" stroke="#000" stroke-width="1.4"/>
<path d="M341.2 1225 A50.8 50.8 0 0 1 392 1173" fill="none" stroke="#000" stroke-width="1.5"/>
<defs><clipPath id="ins"><ellipse cx="1465.8" cy="1466" rx="252.3" ry="147.5"/></clipPath></defs>
<g clip-path="url(#ins)">
<polyline points="1376,1382.5 1376,1497.2 1329.5,1543.7" fill="none" stroke="#000" stroke-width="10.7" stroke-linejoin="miter" stroke-linecap="butt" stroke-miterlimit="10"/>
<polyline points="1371.3,1310 1371.3,1382.5" fill="none" stroke="#000" stroke-width="1.4"/>
<polyline points="1376,1310 1376,1382.5" fill="none" stroke="#000" stroke-width="1.4"/>
<polyline points="1380.7,1310 1380.7,1382.5" fill="none" stroke="#000" stroke-width="1.4"/>
<polyline points="1371.3,1342 1380.7,1342" fill="none" stroke="#000" stroke-width="1.4"/>
<polyline points="1371.3,1354.8 1380.7,1354.8" fill="none" stroke="#000" stroke-width="1.4"/>
<polyline points="1371.3,1368.6 1380.7,1368.6" fill="none" stroke="#000" stroke-width="1.4"/>
<ellipse cx="1416.5" cy="1342" rx="27.7" ry="40.5" fill="none" stroke="#000" stroke-width="1.4"/>
<ellipse cx="1416.5" cy="1342" rx="25.2" ry="38" fill="none" stroke="#000" stroke-width="1.4"/>
<circle cx="1416.5" cy="1370.1" r="2" fill="none" stroke="#000" stroke-width="1.1"/>
<polyline points="1451.6,1310 1451.6,1401.6" fill="none" stroke="#000" stroke-width="1.5"/>
<polyline points="1381,1405.3 1523.6,1405.3 1546,1427.7" fill="none" stroke="#000" stroke-width="7.6" stroke-linejoin="miter" stroke-linecap="butt" stroke-miterlimit="10"/>
<polyline points="1444.8,1405 1444.8,1535.4" fill="none" stroke="#000" stroke-width="7.6" stroke-linejoin="miter" stroke-linecap="butt" stroke-miterlimit="10"/>
<polyline points="1433.5,1535.4 1656,1535.4 1702,1489.4" fill="none" stroke="#000" stroke-width="7.6" stroke-linejoin="miter" stroke-linecap="butt" stroke-miterlimit="10"/>
<polygon points="1441,1523.2 1433.5,1531.7 1433.5,1539.2 1441,1539.2" fill="#000"/>
<polyline points="1381.4,1422.1 1441,1422.1" fill="none" stroke="#000" stroke-width="1.5"/>
<polyline points="1381.4,1437.9 1441,1437.9" fill="none" stroke="#000" stroke-width="1.5"/>
<polyline points="1381.4,1455 1441,1455" fill="none" stroke="#000" stroke-width="1.5"/>
<polyline points="1381.4,1472 1441,1472" fill="none" stroke="#000" stroke-width="1.5"/>
<polyline points="1381.4,1489.1 1441,1489.1" fill="none" stroke="#000" stroke-width="1.5"/>
<polyline points="1381.6,1499.2 1441,1523.2" fill="none" stroke="#000" stroke-width="1.5"/>
<polyline points="1374.7,1506.2 1416.4,1547.9" fill="none" stroke="#000" stroke-width="1.5"/>
<polyline points="1362.7,1518.2 1405.7,1559.9" fill="none" stroke="#000" stroke-width="1.5"/>
<polyline points="1350.7,1530.2 1393.7,1571.9" fill="none" stroke="#000" stroke-width="1.5"/>
<polyline points="1338.7,1542.2 1382.9,1585.8" fill="none" stroke="#000" stroke-width="1.5"/>
<polygon points="1432.2,1536.4 1380.6,1586.4 1383,1588.8 1434.6,1538.8" fill="#fff" stroke="#000" stroke-width="1.2"/>
<polyline points="1343.7,1577.6 1399,1521.7" fill="none" stroke="#000" stroke-width="1.5"/>
<polygon points="1402.6,1518 1398.6,1529.6 1391.2,1522.2" fill="#000"/>
<polyline points="1310.9,1544.1 1343.7,1577.6" fill="none" stroke="#000" stroke-width="1.5"/>
<polyline points="1324.8,1541.6 1290,1576.4" fill="none" stroke="#000" stroke-width="1.5"/>
<polygon points="1330.5,1549.8 1366.5,1583.9 1368.3,1582 1332.3,1547.9" fill="#fff" stroke="#000" stroke-width="1.4"/>
<path d="M1366.5 1583.9 A49.6 49.6 0 0 1 1295.4 1584.9" fill="none" stroke="#000" stroke-width="1.5"/>
<polyline points="1533.7,1420.8 1520.9,1433.6 1474,1433.6 1474,1507.1 1621.1,1507.1" fill="none" stroke="#000" stroke-width="1.5"/>
<polygon points="1546.5,1431.5 1509.2,1466.7 1507.4,1464.8 1544.7,1429.6" fill="#fff" stroke="#000" stroke-width="1.4"/>
<path d="M1509.2 1466.7 A51.3 51.3 0 0 0 1581.7 1464.5" fill="none" stroke="#000" stroke-width="1.5"/>
<polyline points="1596.5,1374 1596.5,1382 1700.5,1486.9 1730,1486.9" fill="none" stroke="#000" stroke-width="8.2" stroke-linejoin="miter" stroke-linecap="butt" stroke-miterlimit="10"/>
<polyline points="1586,1463.6 1652,1529.6" fill="none" stroke="#000" stroke-width="8" stroke-linejoin="miter" stroke-linecap="butt" stroke-miterlimit="10"/>
<polygon points="1588.5,1462 1594,1456.4 1601.4,1463.8 1596,1469.4" fill="#000"/>
<polygon points="1625,1426 1630.6,1431.6 1634.6,1427.6 1629,1422" fill="#000"/>
<polygon points="1627.5,1429.4 1593.4,1395.3 1591.6,1397.1 1625.7,1431.2" fill="#fff" stroke="#000" stroke-width="1.4"/>
<path d="M1593.4 1395.3 A48.2 48.2 0 0 0 1589.1 1461.3" fill="none" stroke="#000" stroke-width="1.5"/>
<path d="M1543.3 1328.1 A49 49 0 0 0 1592.3 1374" fill="none" stroke="#000" stroke-width="1.5"/>
<g transform="translate(1666.9 1499.7) rotate(-45)" fill="#fff" stroke="#000" stroke-width="1.5"><path d="M-7.4 -3.4 C-7.4 -5.4 -8.6 -6.8 -9.6 -8.6 C-11.2 -11.4 -11.8 -13.9 -11.8 -16.9 C-11.8 -25.4 -7 -33.2 0 -33.2 C7 -33.2 11.8 -25.4 11.8 -16.9 C11.8 -13.9 11.2 -11.4 9.6 -8.6 C8.6 -6.8 7.4 -5.4 7.4 -3.4 Z"/><rect x="-15.8" y="0" width="31.5" height="10.5" rx="3.4" ry="3.4"/><path d="M-7.8 -3.4 H7.8" stroke-width="1.5"/></g>
</g>
<ellipse cx="1465.8" cy="1466" rx="252.3" ry="147.5" fill="none" stroke="#000" stroke-width="3"/>
</svg>
</body></html>
